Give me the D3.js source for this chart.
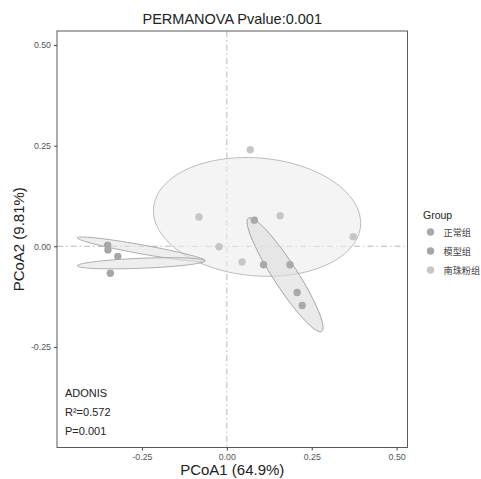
<!DOCTYPE html>
<html>
<head>
<meta charset="utf-8">
<script src="https://cdn.jsdelivr.net/npm/d3@7"></script>
<style>
  html, body { margin: 0; padding: 0; background: #fff; }
  svg { display: block; font-family: "Liberation Sans", Arial, sans-serif; }
</style>
</head>
<body>
<div id="chart"></div>
<script>
// Groups, in legend order
const groups = ["正常组", "模型组", "南珠粉组"];
const groupFill = ["#a9a9a9", "#a6a6a6", "#c6c6c6"];
const ellipseFill = ["#dcdcdc", "#e2e2e2", "#ececec"];
const ellipseStroke = ["#9a9a9a", "#a4a4a4", "#b4b4b4"];

// Sample scores on the first two principal coordinates
const pcoa1 = [
  0.081, 0.108, 0.186, 0.207, 0.222,          // 正常组
  -0.351, -0.350, -0.321, -0.343,             // 模型组
  0.069, -0.082, 0.157, 0.372, -0.023, 0.045  // 南珠粉组
];
const pcoa2 = [
  0.065, -0.046, -0.046, -0.115, -0.147,
  0.003, -0.009, -0.025, -0.067,
  0.240, 0.073, 0.076, 0.024, -0.001, -0.039
];
const sampleGroup = [0,0,0,0,0, 1,1,1,1, 2,2,2,2,2,2];

// Confidence ellipses: centre and two conjugate semi-axis vectors (data units)
const ellGroup = [2, 0, 1, 1];
const ellCx = [0.089, 0.1715, -0.252, -0.252];
const ellCy = [0.073, -0.0707, -0.0074, -0.0422];
const ellUx = [0.3047, 0.1079, 0.1882, 0.1882];
const ellUy = [-0.0225, -0.1407, -0.0285, 0.0062];
const ellVx = [-0.0151, -0.0296, -0.0023, 0.0006];
const ellVy = [-0.1459, -0.0162, -0.0110, -0.0124];

const xTicks = [-0.25, 0, 0.25, 0.5];
const yTicks = [-0.25, 0, 0.25, 0.5];
const xDomain = [-0.5, 0.532];
const yDomain = [-0.5, 0.535];

const title = "PERMANOVA Pvalue:0.001";
const xTitle = "PCoA1 (64.9%)";
const yTitle = "PCoA2 (9.81%)";
const adonis = ["ADONIS", "R²=0.572", "P=0.001"];

const W = 481, H = 479;
const panel = {left: 57, right: 407.5, top: 31, bottom: 447.5};

const svg = d3.select("#chart").append("svg").attr("width", W).attr("height", H);

const x = d3.scaleLinear().domain(xDomain).range([panel.left, panel.right]);
const y = d3.scaleLinear().domain(yDomain).range([panel.bottom, panel.top]);

// Tick labels use a plain hyphen-minus
const fmt = d3.formatLocale({decimal: ".", thousands: ",", grouping: [3], currency: ["", ""], minus: "-"}).format(".2f");

// Zero reference lines
const dash = "6,3,1.5,3";
svg.append("line")
  .attr("x1", x(0)).attr("x2", x(0))
  .attr("y1", panel.top).attr("y2", panel.bottom)
  .attr("stroke", "#b0b0b0").attr("stroke-width", 0.9).attr("stroke-dasharray", dash);
svg.append("line")
  .attr("x1", panel.left).attr("x2", panel.right)
  .attr("y1", y(0)).attr("y2", y(0))
  .attr("stroke", "#b0b0b0").attr("stroke-width", 0.9).attr("stroke-dasharray", dash);

// Ellipses
const line = d3.line().x(d => x(d[0])).y(d => y(d[1]));
const ts = d3.range(0, 101).map(i => i / 100 * 2 * Math.PI);
const ellG = svg.append("g");
ellGroup.forEach((g, i) => {
  const pts = ts.map(t => [
    ellCx[i] + ellUx[i] * Math.cos(t) + ellVx[i] * Math.sin(t),
    ellCy[i] + ellUy[i] * Math.cos(t) + ellVy[i] * Math.sin(t)
  ]);
  ellG.append("path")
    .attr("d", line(pts) + "Z")
    .attr("fill", ellipseFill[g]).attr("fill-opacity", 0.6)
    .attr("stroke", ellipseStroke[g]).attr("stroke-width", 0.9);
});

// Sample points
svg.append("g").selectAll("circle")
  .data(pcoa1.map((v, i) => ({x: v, y: pcoa2[i], g: sampleGroup[i]})))
  .join("circle")
  .attr("cx", d => x(d.x)).attr("cy", d => y(d.y))
  .attr("r", 3.7)
  .attr("fill", d => groupFill[d.g]);

// Panel border
svg.append("rect")
  .attr("x", panel.left).attr("y", panel.top)
  .attr("width", panel.right - panel.left).attr("height", panel.bottom - panel.top)
  .attr("fill", "none").attr("stroke", "#5a5a5a").attr("stroke-width", 1);

// Axes
const xAxis = svg.append("g").attr("transform", `translate(0,${panel.bottom})`)
  .call(d3.axisBottom(x).tickValues(xTicks).tickFormat(fmt).tickSize(3).tickPadding(3));
const yAxis = svg.append("g").attr("transform", `translate(${panel.left},0)`)
  .call(d3.axisLeft(y).tickValues(yTicks).tickFormat(fmt).tickSize(3).tickPadding(3));
[xAxis, yAxis].forEach(a => {
  a.select(".domain").remove();
  a.selectAll(".tick line").attr("stroke", "#444");
  a.selectAll(".tick text").attr("fill", "#555").attr("font-size", 8.8)
    .attr("font-family", "'Liberation Sans', Arial, sans-serif");
});

// Titles
svg.append("text").attr("x", (panel.left + panel.right) / 2).attr("y", 24)
  .attr("text-anchor", "middle").attr("font-size", 14.5).attr("fill", "#222").text(title);
svg.append("text").attr("x", (panel.left + panel.right) / 2).attr("y", 475)
  .attr("text-anchor", "middle").attr("font-size", 15).attr("fill", "#222").text(xTitle);
svg.append("text")
  .attr("transform", `translate(24,${(panel.top + panel.bottom) / 2}) rotate(-90)`)
  .attr("text-anchor", "middle").attr("font-size", 15).attr("fill", "#222").text(yTitle);

// ADONIS annotation
svg.append("g").selectAll("text").data(adonis).join("text")
  .attr("x", 65).attr("y", (d, i) => 397 + i * 19)
  .attr("font-size", 11).attr("fill", "#222").text(d => d);

// Legend
const lg = svg.append("g");
lg.append("text").attr("x", 423).attr("y", 219).attr("font-size", 10.5).attr("fill", "#222").text("Group");
groups.forEach((g, i) => {
  lg.append("circle").attr("cx", 430.5).attr("cy", 232 + i * 19).attr("r", 3.7).attr("fill", groupFill[i]);
  lg.append("text").attr("x", 443.5).attr("y", 235.5 + i * 19)
    .attr("font-size", 9.2).attr("fill", "#444")
    .attr("font-family", "'Noto Sans CJK SC', sans-serif").text(g);
});
</script>
</body>
</html>
